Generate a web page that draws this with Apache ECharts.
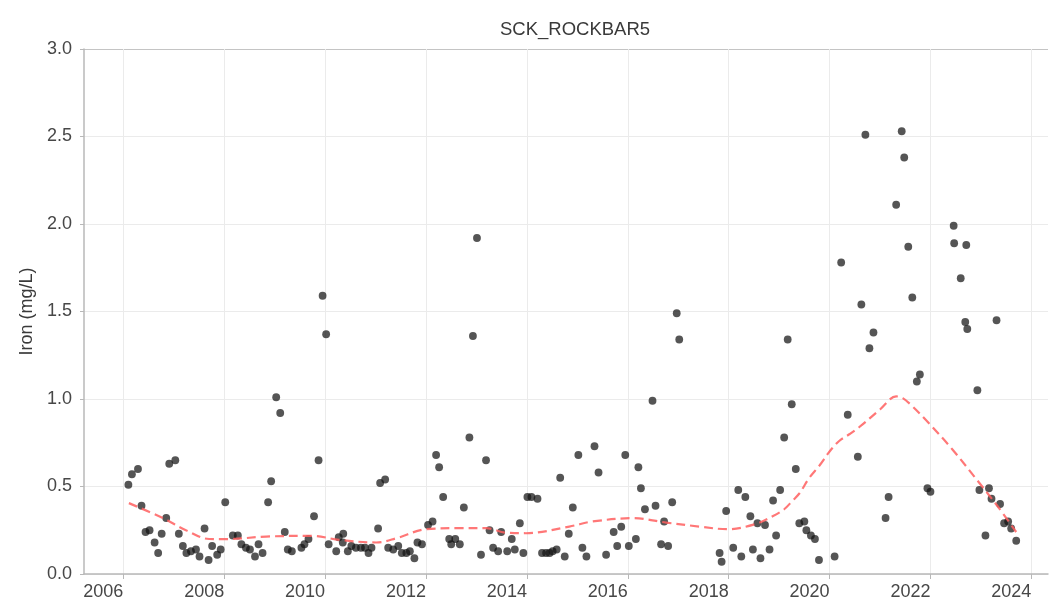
<!DOCTYPE html>
<html>
<head>
<meta charset="utf-8">
<script src="https://cdn.jsdelivr.net/npm/echarts@6/dist/echarts.min.js"></script>
<style>
  html, body { margin: 0; padding: 0; background: #ffffff; }
  #chart { width: 1051px; height: 606px; }
</style>
</head>
<body>
<div id="chart"></div>
<script>
// Sampling dates (decimal years) and dissolved iron results (mg/L)
const sampleYears = [
  2006.10, 2006.17, 2006.29, 2006.36, 2006.44, 2006.52, 2006.62, 2006.69, 2006.76, 2006.85,
  2006.91, 2007.03, 2007.10, 2007.18, 2007.25, 2007.34, 2007.44, 2007.51, 2007.61, 2007.69,
  2007.76, 2007.86, 2007.93, 2008.02, 2008.17, 2008.27, 2008.34, 2008.43, 2008.51, 2008.61,
  2008.68, 2008.76, 2008.87, 2008.93, 2009.03, 2009.11, 2009.20, 2009.26, 2009.34, 2009.53,
  2009.59, 2009.67, 2009.78, 2009.87, 2009.95, 2010.02, 2010.07, 2010.22, 2010.27, 2010.35,
  2010.36, 2010.45, 2010.52, 2010.61, 2010.71, 2010.79, 2010.86, 2010.92, 2011.05, 2011.09,
  2011.19, 2011.25, 2011.35, 2011.45, 2011.52, 2011.61, 2011.68, 2011.77, 2011.83, 2011.92,
  2012.04, 2012.13, 2012.20, 2012.26, 2012.34, 2012.46, 2012.50, 2012.58, 2012.67, 2012.75,
  2012.86, 2012.93, 2013.01, 2013.09, 2013.19, 2013.26, 2013.33, 2013.43, 2013.49, 2013.61,
  2013.70, 2013.76, 2013.86, 2013.93, 2014.01, 2014.09, 2014.21, 2014.30, 2014.38, 2014.45,
  2014.51, 2014.59, 2014.66, 2014.75, 2014.83, 2014.91, 2015.02, 2015.10, 2015.18, 2015.34,
  2015.42, 2015.57, 2015.72, 2015.79, 2015.87, 2015.95, 2016.02, 2016.16, 2016.21, 2016.26,
  2016.34, 2016.49, 2016.55, 2016.66, 2016.72, 2016.80, 2016.88, 2016.97, 2017.02, 2017.82,
  2017.86, 2017.95, 2018.09, 2018.19, 2018.25, 2018.33, 2018.43, 2018.48, 2018.57, 2018.63,
  2018.72, 2018.81, 2018.88, 2018.94, 2019.02, 2019.10, 2019.17, 2019.25, 2019.33, 2019.40,
  2019.50, 2019.54, 2019.63, 2019.71, 2019.79, 2020.10, 2020.23, 2020.36, 2020.56, 2020.63,
  2020.71, 2020.79, 2020.87, 2021.11, 2021.17, 2021.32, 2021.43, 2021.48, 2021.56, 2021.64,
  2021.73, 2021.79, 2021.94, 2022.00, 2022.46, 2022.47, 2022.60, 2022.69, 2022.71, 2022.73,
  2022.93, 2022.97, 2023.09, 2023.16, 2023.21, 2023.31, 2023.38, 2023.46, 2023.54, 2023.60,
  2023.70
];
const ironValues = [
  0.51, 0.57, 0.60, 0.39, 0.24, 0.25, 0.18, 0.12, 0.23, 0.32,
  0.63, 0.65, 0.23, 0.16, 0.12, 0.13, 0.14, 0.10, 0.26, 0.08,
  0.16, 0.11, 0.14, 0.41, 0.22, 0.22, 0.17, 0.15, 0.14, 0.10,
  0.17, 0.12, 0.41, 0.53, 1.01, 0.92, 0.24, 0.14, 0.13, 0.15,
  0.17, 0.20, 0.33, 0.65, 1.59, 1.37, 0.17, 0.13, 0.21, 0.18,
  0.23, 0.13, 0.16, 0.15, 0.15, 0.15, 0.12, 0.15, 0.26, 0.52,
  0.54, 0.15, 0.14, 0.16, 0.12, 0.12, 0.13, 0.09, 0.18, 0.17,
  0.28, 0.30, 0.68, 0.61, 0.44, 0.20, 0.17, 0.20, 0.17, 0.38,
  0.78, 1.36, 1.92, 0.11, 0.65, 0.25, 0.15, 0.13, 0.24, 0.13,
  0.20, 0.14, 0.29, 0.12, 0.44, 0.44, 0.43, 0.12, 0.12, 0.12,
  0.13, 0.14, 0.55, 0.10, 0.23, 0.38, 0.68, 0.15, 0.10, 0.73,
  0.58, 0.11, 0.24, 0.16, 0.27, 0.68, 0.16, 0.20, 0.61, 0.49,
  0.37, 0.99, 0.39, 0.17, 0.30, 0.16, 0.41, 1.49, 1.34, 0.12,
  0.07, 0.36, 0.15, 0.48, 0.10, 0.44, 0.33, 0.14, 0.29, 0.09,
  0.28, 0.14, 0.42, 0.22, 0.48, 0.78, 1.34, 0.97, 0.60, 0.29,
  0.30, 0.25, 0.22, 0.20, 0.08, 0.10, 1.78, 0.91, 0.67, 1.54,
  2.51, 1.29, 1.38, 0.32, 0.44, 2.11, 2.53, 2.38, 1.87, 1.58,
  1.10, 1.14, 0.49, 0.47, 1.99, 1.89, 1.69, 1.44, 1.88, 1.40,
  1.05, 0.48, 0.22, 0.49, 0.43, 1.45, 0.40, 0.29, 0.30, 0.26,
  0.19
];

// Smoothed trend through the record
const trendYears = [
  2006.11, 2006.78, 2007.24, 2007.70, 2008.04, 2008.83, 2009.75, 2010.28, 2011.01, 2011.41,
  2012.00, 2012.66, 2013.19, 2013.59, 2013.98, 2014.84, 2015.30, 2016.10, 2016.76, 2017.42,
  2017.98, 2018.54, 2018.87, 2019.10, 2019.27, 2019.40, 2019.60, 2019.80, 2020.00, 2020.19,
  2020.40, 2020.59, 2021.00, 2021.32, 2021.45, 2021.60, 2021.91, 2022.44, 2022.97, 2023.35,
  2023.70
];
const trendValues = [
  0.405, 0.32, 0.25, 0.20, 0.199, 0.214, 0.218, 0.195, 0.18, 0.204,
  0.256, 0.262, 0.262, 0.236, 0.233, 0.271, 0.30, 0.319, 0.294, 0.271,
  0.256, 0.286, 0.33, 0.37, 0.42, 0.46, 0.55, 0.62, 0.70, 0.76,
  0.80, 0.84, 0.94, 1.015, 1.005, 0.97, 0.88, 0.71, 0.52, 0.38,
  0.24
];

const yearTicks = [2006, 2008, 2010, 2012, 2014, 2016, 2018, 2020, 2022, 2024];

const FONT = 'Liberation Sans, Arial, Helvetica, sans-serif';
const TEXT = '#474747';
const AXIS = '#b8b8b8';
const GRID = '#ebebeb';

const chart = echarts.init(document.getElementById('chart'), null, { renderer: 'canvas' });

const points = sampleYears.map((y, i) => [y, ironValues[i]]);
const trend = trendYears.map((y, i) => [y, trendValues[i]]);

chart.setOption({
  animation: false,
  backgroundColor: '#ffffff',
  title: {
    text: 'SCK_ROCKBAR5',
    left: 570,
    textAlign: 'center',
    top: 15,
    textStyle: { fontFamily: FONT, fontSize: 18.5, fontWeight: 'normal', color: '#3a3a3a' }
  },
  grid: { left: 84, right: 3, top: 49, bottom: 32, containLabel: false },
  xAxis: {
    type: 'value',
    min: 2005.22,
    max: 2024.33,
    axisLine: { show: true, lineStyle: { color: AXIS, width: 1.5 } },
    axisTick: { show: true, customValues: yearTicks, length: 5, lineStyle: { color: AXIS } },
    axisLabel: {
      customValues: yearTicks,
      align: 'right',
      margin: 9,
      fontFamily: FONT,
      fontSize: 18,
      color: TEXT,
      formatter: v => String(v)
    },
    splitLine: { show: true, lineStyle: { color: GRID, width: 1 } }
  },
  yAxis: {
    type: 'value',
    min: 0,
    max: 3,
    interval: 0.5,
    name: 'Iron (mg/L)',
    nameLocation: 'middle',
    nameGap: 44,
    nameTextStyle: { fontFamily: FONT, fontSize: 18, color: '#3a3a3a' },
    axisLine: { show: true, lineStyle: { color: AXIS, width: 1.5 } },
    axisTick: { show: true, length: 4, lineStyle: { color: AXIS } },
    axisLabel: {
      margin: 12,
      fontFamily: FONT,
      fontSize: 18,
      color: TEXT,
      formatter: v => v.toFixed(1)
    },
    splitLine: {
      show: true,
      lineStyle: { color: [GRID, GRID, GRID, GRID, GRID, GRID, '#c4c4c4'], width: 1 }
    }
  },
  series: [
    {
      name: 'Iron',
      type: 'scatter',
      data: points,
      symbol: 'circle',
      symbolSize: 7.8,
      itemStyle: { color: 'rgba(20,20,20,0.9)' },
      emphasis: { disabled: true },
      z: 2
    },
    {
      name: 'Trend',
      type: 'line',
      data: trend,
      smooth: 0.35,
      showSymbol: false,
      lineStyle: { color: 'rgba(255,95,95,0.85)', width: 2.2, type: [9, 5] },
      emphasis: { disabled: true },
      z: 3
    }
  ]
});
</script>
</body>
</html>
